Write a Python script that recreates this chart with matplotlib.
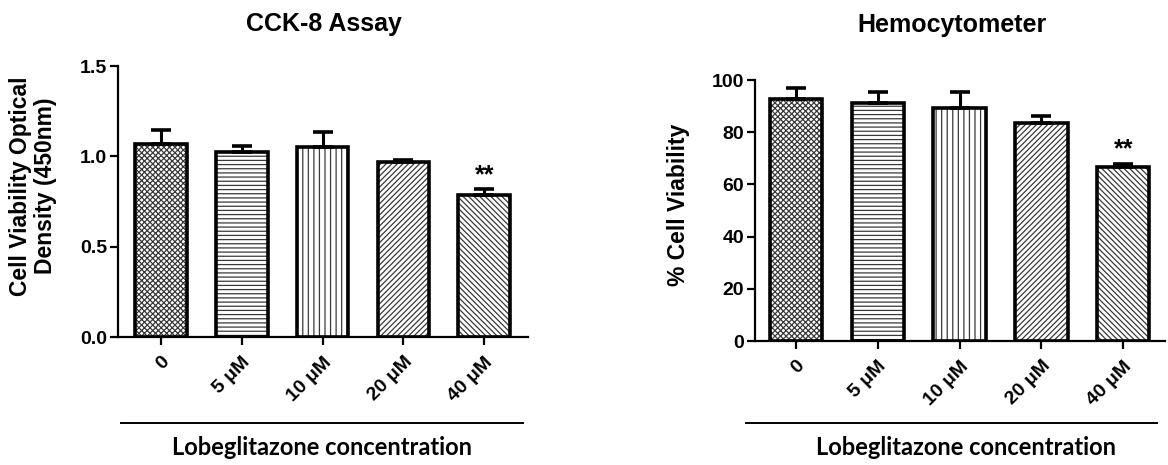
import matplotlib
matplotlib.use("Agg")
import matplotlib.pyplot as plt
from matplotlib.lines import Line2D
import numpy as np

categories = ["0", "5 μM", "10 μM", "20 μM", "40 μM"]
cck8_mean = [1.068, 1.025, 1.052, 0.968, 0.785]
cck8_err = [0.078, 0.034, 0.083, 0.010, 0.032]
hemo_mean = [92.8, 91.3, 89.3, 83.4, 66.5]
hemo_err = [4.0, 4.0, 6.0, 2.8, 1.4]
sig_labels = ["", "", "", "", "**"]
hatches = ["xxxxxx", "----", "|||", "//////", "\\\\\\\\\\\\"]

plt.rcParams['font.family'] = ['Liberation Sans', 'DejaVu Sans']
plt.rcParams['hatch.linewidth'] = 0.9

fig = plt.figure(figsize=(11.68, 4.65), dpi=100)
W, H = 1168, 465

def fx(px):
    return px / W

def fy(py):
    return 1 - py / H

def draw(ax, means, errs, ylim, yticks, yticklabels, xlim, star_offset):
    x = np.arange(len(categories))
    for i in range(len(categories)):
        ax.bar(x[i], means[i], width=0.64, color='white', edgecolor='#3a3a3a',
               hatch=hatches[i], linewidth=0, zorder=2)
    ax.bar(x, means, width=0.64, fill=False, edgecolor='black', linewidth=2.6, zorder=3)
    ax.errorbar(x, means, yerr=[np.zeros(len(means)), errs], fmt='none',
                ecolor='black', elinewidth=2.2, capsize=7.5, capthick=2.6, zorder=4)
    for i, s in enumerate(sig_labels):
        if s:
            ax.text(x[i], means[i] + errs[i] + star_offset, s, ha='center', va='bottom',
                    fontsize=18, fontweight='bold')
    ax.set_xlim(*xlim)
    ax.set_ylim(*ylim)
    ax.set_yticks(yticks)
    ax.set_yticklabels(yticklabels, fontsize=14, fontweight='bold')
    ax.set_xticks(x)
    ax.set_xticklabels(categories, rotation=45, ha='right', rotation_mode='anchor',
                       fontsize=14, fontweight='bold')
    for s in ['top', 'right']:
        ax.spines[s].set_visible(False)
    for s in ['left', 'bottom']:
        ax.spines[s].set_linewidth(1.6)
    ax.tick_params(axis='both', width=1.6, length=6)
    ax.tick_params(axis='x', pad=6)
    ax.tick_params(axis='y', pad=2)

ax1 = fig.add_axes([fx(118), fy(337), fx(528 - 118), fy(66) - fy(337)])
draw(ax1, cck8_mean, cck8_err, (0, 1.5), [0, 0.5, 1.0, 1.5],
     ["0.0", "0.5", "1.0", "1.5"], (-0.53, 4.54), 0.012)

ax2 = fig.add_axes([fx(755), fy(341), fx(1165 - 755), fy(80) - fy(341)])
draw(ax2, hemo_mean, hemo_err, (0, 100), [0, 20, 40, 60, 80, 100],
     ["0", "20", "40", "60", "80", "100"], (-0.5, 4.51), 1.0)

# Titles
fig.text(fx(324), fy(24), "CCK-8 Assay", ha='center', va='center',
         fontsize=18, fontweight='bold')
fig.text(fx(952), fy(25), "Hemocytometer", ha='center', va='center',
         fontsize=18, fontweight='bold')

# Y labels
fig.text(fx(33), fy(186), "Cell Viability Optical\nDensity (450nm)", ha='center',
         va='center', rotation=90, multialignment='center', fontsize=16.5,
         fontweight='bold', linespacing=1.15)
fig.text(fx(678), fy(205), "% Cell Viability", ha='center', va='center',
         rotation=90, fontsize=16.5, fontweight='bold')

# Group lines and x labels
fig.add_artist(Line2D([fx(121), fx(523)], [fy(423), fy(423)], color='black', linewidth=1.4))
fig.add_artist(Line2D([fx(746), fx(1157)], [fy(423), fy(423)], color='black', linewidth=1.4))
fig.text(fx(322), fy(447), "Lobeglitazone concentration", ha='center', va='center',
         fontsize=17, fontweight='bold', family=['Lato', 'DejaVu Sans'])
fig.text(fx(966), fy(447), "Lobeglitazone concentration", ha='center', va='center',
         fontsize=17, fontweight='bold', family=['Lato', 'DejaVu Sans'])

fig.savefig("out.png", dpi=100)
